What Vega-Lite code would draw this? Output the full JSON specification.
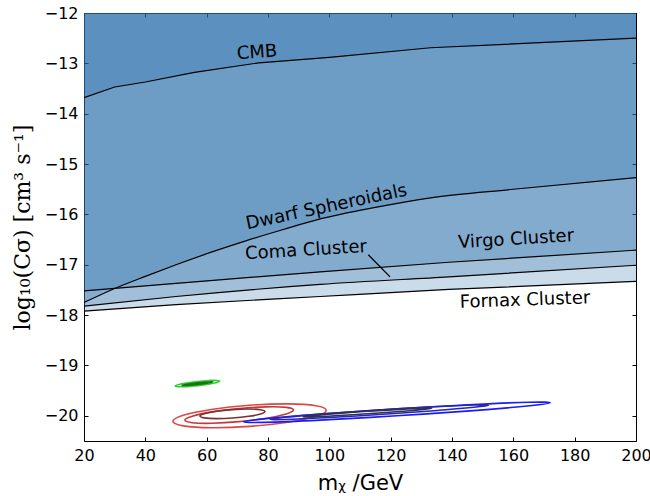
{
  "$schema": "https://vega.github.io/schema/vega-lite/v6.json",
  "width": 552,
  "height": 428,
  "autosize": "none",
  "padding": {"left": 84, "top": 13, "right": 14, "bottom": 55},
  "background": "white",
  "config": {
    "view": {"stroke": null},
    "axis": {
      "domainColor": "black", "domainWidth": 1,
      "tickColor": "black", "tickWidth": 1, "tickSize": -4,
      "labelColor": "black", "labelFont": "DejaVu Sans", "labelFontSize": 16, "labelPadding": 10,
      "labelFlush": false, "labelOverlap": false,
      "titleColor": "black", "titleFontWeight": "normal", "grid": false
    },
    "text": {"font": "DejaVu Sans", "fontSize": 18, "color": "black", "align": "center", "baseline": "middle"}
  },
  "datasets": {
    "curves": [
      {"curve": "CMB", "m": 20, "v": -13.68}, {"curve": "CMB", "m": 30, "v": -13.47}, {"curve": "CMB", "m": 40, "v": -13.37},
      {"curve": "CMB", "m": 56, "v": -13.18}, {"curve": "CMB", "m": 77, "v": -12.99}, {"curve": "CMB", "m": 100, "v": -12.88},
      {"curve": "CMB", "m": 133, "v": -12.69}, {"curve": "CMB", "m": 200, "v": -12.5},
      {"curve": "Dwarf", "m": 20, "v": -17.75}, {"curve": "Dwarf", "m": 30, "v": -17.47}, {"curve": "Dwarf", "m": 40, "v": -17.23},
      {"curve": "Dwarf", "m": 50, "v": -17.0}, {"curve": "Dwarf", "m": 62, "v": -16.74}, {"curve": "Dwarf", "m": 73, "v": -16.52},
      {"curve": "Dwarf", "m": 85, "v": -16.3}, {"curve": "Dwarf", "m": 97, "v": -16.09}, {"curve": "Dwarf", "m": 115, "v": -15.86},
      {"curve": "Dwarf", "m": 133, "v": -15.67}, {"curve": "Dwarf", "m": 160, "v": -15.5}, {"curve": "Dwarf", "m": 200, "v": -15.27},
      {"curve": "Virgo", "m": 20, "v": -17.52}, {"curve": "Virgo", "m": 50, "v": -17.37}, {"curve": "Virgo", "m": 97, "v": -17.14},
      {"curve": "Virgo", "m": 139, "v": -16.95}, {"curve": "Virgo", "m": 200, "v": -16.71},
      {"curve": "Coma", "m": 20, "v": -17.82}, {"curve": "Coma", "m": 50, "v": -17.63}, {"curve": "Coma", "m": 97, "v": -17.39},
      {"curve": "Coma", "m": 139, "v": -17.24}, {"curve": "Coma", "m": 200, "v": -17.01},
      {"curve": "Fornax", "m": 20, "v": -17.92}, {"curve": "Fornax", "m": 50, "v": -17.79}, {"curve": "Fornax", "m": 97, "v": -17.63},
      {"curve": "Fornax", "m": 139, "v": -17.49}, {"curve": "Fornax", "m": 200, "v": -17.33}
    ],
    "contours": [
      {"c": "g1", "i": 0, "m": 64.3, "v": -19.31}, {"c": "g1", "i": 1, "m": 63.32, "v": -19.297}, {"c": "g1", "i": 2, "m": 60.65, "v": -19.3},
      {"c": "g1", "i": 3, "m": 57, "v": -19.32}, {"c": "g1", "i": 4, "m": 53.35, "v": -19.35}, {"c": "g1", "i": 5, "m": 50.68, "v": -19.383},
      {"c": "g1", "i": 6, "m": 49.7, "v": -19.41}, {"c": "g1", "i": 7, "m": 50.68, "v": -19.423}, {"c": "g1", "i": 8, "m": 53.35, "v": -19.42},
      {"c": "g1", "i": 9, "m": 57, "v": -19.4}, {"c": "g1", "i": 10, "m": 60.65, "v": -19.37}, {"c": "g1", "i": 11, "m": 63.32, "v": -19.337},
      {"c": "g2", "i": 0, "m": 62, "v": -19.325}, {"c": "g2", "i": 1, "m": 61.33, "v": -19.322}, {"c": "g2", "i": 2, "m": 59.5, "v": -19.33},
      {"c": "g2", "i": 3, "m": 57, "v": -19.345}, {"c": "g2", "i": 4, "m": 54.5, "v": -19.365}, {"c": "g2", "i": 5, "m": 52.67, "v": -19.383},
      {"c": "g2", "i": 6, "m": 52, "v": -19.395}, {"c": "g2", "i": 7, "m": 52.67, "v": -19.398}, {"c": "g2", "i": 8, "m": 54.5, "v": -19.391},
      {"c": "g2", "i": 9, "m": 57, "v": -19.375}, {"c": "g2", "i": 10, "m": 59.5, "v": -19.356}, {"c": "g2", "i": 11, "m": 61.33, "v": -19.337},
      {"c": "r1", "i": 0, "m": 99, "v": -19.89}, {"c": "r1", "i": 1, "m": 95.65, "v": -19.8}, {"c": "r1", "i": 2, "m": 86.5, "v": -19.763},
      {"c": "r1", "i": 3, "m": 74, "v": -19.79}, {"c": "r1", "i": 4, "m": 61.5, "v": -19.873}, {"c": "r1", "i": 5, "m": 52.35, "v": -19.99},
      {"c": "r1", "i": 6, "m": 49, "v": -20.11}, {"c": "r1", "i": 7, "m": 52.35, "v": -20.2}, {"c": "r1", "i": 8, "m": 61.5, "v": -20.237},
      {"c": "r1", "i": 9, "m": 74, "v": -20.21}, {"c": "r1", "i": 10, "m": 86.5, "v": -20.127}, {"c": "r1", "i": 11, "m": 95.65, "v": -20.01},
      {"c": "r2", "i": 0, "m": 88.3, "v": -19.885}, {"c": "r2", "i": 1, "m": 85.93, "v": -19.833}, {"c": "r2", "i": 2, "m": 79.45, "v": -19.822},
      {"c": "r2", "i": 3, "m": 70.6, "v": -19.855}, {"c": "r2", "i": 4, "m": 61.75, "v": -19.922}, {"c": "r2", "i": 5, "m": 55.27, "v": -20.007},
      {"c": "r2", "i": 6, "m": 52.9, "v": -20.085}, {"c": "r2", "i": 7, "m": 55.27, "v": -20.137}, {"c": "r2", "i": 8, "m": 61.75, "v": -20.148},
      {"c": "r2", "i": 9, "m": 70.6, "v": -20.115}, {"c": "r2", "i": 10, "m": 79.45, "v": -20.048}, {"c": "r2", "i": 11, "m": 85.93, "v": -19.963},
      {"c": "r3", "i": 0, "m": 79, "v": -19.915}, {"c": "r3", "i": 1, "m": 77.58, "v": -19.879}, {"c": "r3", "i": 2, "m": 73.7, "v": -19.865},
      {"c": "r3", "i": 3, "m": 68.4, "v": -19.876}, {"c": "r3", "i": 4, "m": 63.1, "v": -19.91}, {"c": "r3", "i": 5, "m": 59.22, "v": -19.957},
      {"c": "r3", "i": 6, "m": 57.8, "v": -20.005}, {"c": "r3", "i": 7, "m": 59.22, "v": -20.041}, {"c": "r3", "i": 8, "m": 63.1, "v": -20.055},
      {"c": "r3", "i": 9, "m": 68.4, "v": -20.044}, {"c": "r3", "i": 10, "m": 73.7, "v": -20.01}, {"c": "r3", "i": 11, "m": 77.58, "v": -19.963},
      {"c": "b1", "i": 0, "m": 172, "v": -19.74}, {"c": "b1", "i": 1, "m": 165.3, "v": -19.73}, {"c": "b1", "i": 2, "m": 147, "v": -19.774},
      {"c": "b1", "i": 3, "m": 122, "v": -19.86}, {"c": "b1", "i": 4, "m": 97, "v": -19.964}, {"c": "b1", "i": 5, "m": 78.7, "v": -20.06},
      {"c": "b1", "i": 6, "m": 72, "v": -20.12}, {"c": "b1", "i": 7, "m": 78.7, "v": -20.13}, {"c": "b1", "i": 8, "m": 97, "v": -20.086},
      {"c": "b1", "i": 9, "m": 122, "v": -20.0}, {"c": "b1", "i": 10, "m": 147, "v": -19.896}, {"c": "b1", "i": 11, "m": 165.3, "v": -19.8},
      {"c": "b2", "i": 0, "m": 151.9, "v": -19.79}, {"c": "b2", "i": 1, "m": 147.13, "v": -19.786}, {"c": "b2", "i": 2, "m": 134.1, "v": -19.821},
      {"c": "b2", "i": 3, "m": 116.3, "v": -19.885}, {"c": "b2", "i": 4, "m": 98.5, "v": -19.961}, {"c": "b2", "i": 5, "m": 85.47, "v": -20.029},
      {"c": "b2", "i": 6, "m": 80.7, "v": -20.07}, {"c": "b2", "i": 7, "m": 85.47, "v": -20.074}, {"c": "b2", "i": 8, "m": 98.5, "v": -20.039},
      {"c": "b2", "i": 9, "m": 116.3, "v": -19.975}, {"c": "b2", "i": 10, "m": 134.1, "v": -19.899}, {"c": "b2", "i": 11, "m": 147.13, "v": -19.831},
      {"c": "b3", "i": 0, "m": 133.4, "v": -19.85}, {"c": "b3", "i": 1, "m": 130.59, "v": -19.849}, {"c": "b3", "i": 2, "m": 122.9, "v": -19.871},
      {"c": "b3", "i": 3, "m": 112.4, "v": -19.91}, {"c": "b3", "i": 4, "m": 101.9, "v": -19.956}, {"c": "b3", "i": 5, "m": 94.21, "v": -19.996},
      {"c": "b3", "i": 6, "m": 91.4, "v": -20.02}, {"c": "b3", "i": 7, "m": 94.21, "v": -20.021}, {"c": "b3", "i": 8, "m": 101.9, "v": -19.999},
      {"c": "b3", "i": 9, "m": 112.4, "v": -19.96}, {"c": "b3", "i": 10, "m": 122.9, "v": -19.914}, {"c": "b3", "i": 11, "m": 130.59, "v": -19.874}
    ],
    "arrow": [{"m": 112.7, "v": -16.8, "m2": 119.8, "v2": -17.24}]
  },
  "layer": [
    {
      "layer": [
        {
          "data": {"name": "curves"},
          "transform": [{"filter": "datum.curve !== 'CMB'"}],
          "mark": {"type": "area", "color": "#236aa9", "clip": true, "interpolate": "monotone"},
          "encoding": {
            "x": {"field": "m", "type": "quantitative", "scale": {"domain": [20, 200], "nice": false, "zero": false},
              "axis": {"values": [20, 40, 60, 80, 100, 120, 140, 160, 180, 200], "format": "d", "title": "mᵪ /GeV",
                "titleFont": "DejaVu Sans", "titleFontSize": 21, "titlePadding": 9}},
            "y": {"field": "v", "type": "quantitative", "stack": null, "scale": {"domain": [-20.5, -12], "nice": false, "zero": false},
              "axis": {"values": [-20, -19, -18, -17, -16, -15, -14, -13, -12], "format": "d", "title": "log₁₀(Cσ)  [cm³ s⁻¹]",
                "titleFont": "DejaVu Serif", "titleFontSize": 22, "titlePadding": 10}},
            "y2": {"datum": -12},
            "detail": {"field": "curve"},
            "opacity": {"field": "curve", "type": "nominal",
              "scale": {"domain": ["Fornax", "Coma", "Virgo", "Dwarf", "CMB"], "range": [0.245, 0.229, 0.258, 0.295, 0.343]},
              "legend": null}
          }
        },
        {
          "data": {"name": "curves"},
          "transform": [{"filter": "datum.curve === 'CMB'"}],
          "mark": {"type": "area", "color": "#236aa9", "clip": true},
          "encoding": {
            "x": {"field": "m", "type": "quantitative"},
            "y": {"field": "v", "type": "quantitative", "stack": null},
            "y2": {"datum": -12},
            "detail": {"field": "curve"},
            "opacity": {"field": "curve", "type": "nominal"}
          }
        },
        {
          "data": {"name": "curves"},
          "transform": [{"filter": "datum.curve !== 'CMB'"}],
          "mark": {"type": "line", "color": "black", "strokeWidth": 1.2, "clip": true, "interpolate": "monotone"},
          "encoding": {
            "x": {"field": "m", "type": "quantitative"},
            "y": {"field": "v", "type": "quantitative"},
            "detail": {"field": "curve"}
          }
        },
        {
          "data": {"name": "curves"},
          "transform": [{"filter": "datum.curve === 'CMB'"}],
          "mark": {"type": "line", "color": "black", "strokeWidth": 1.2, "clip": true},
          "encoding": {
            "x": {"field": "m", "type": "quantitative"},
            "y": {"field": "v", "type": "quantitative"},
            "detail": {"field": "curve"}
          }
        },
        {
          "data": {"name": "contours"},
          "mark": {"type": "line", "interpolate": "cardinal-closed", "strokeWidth": 1.6},
          "encoding": {
            "x": {"field": "m", "type": "quantitative"},
            "y": {"field": "v", "type": "quantitative"},
            "order": {"field": "i", "type": "quantitative"},
            "color": {"field": "c", "type": "nominal",
              "scale": {"domain": ["g1", "g2", "r1", "r2", "r3", "b1", "b2", "b3"],
                "range": ["#33cc33", "#117711", "#e04545", "#c03a3a", "#803030", "#1a1aff", "#2424c0", "#303050"]},
              "legend": null}
          }
        },
        {
          "data": {"name": "arrow"},
          "mark": {"type": "rule", "color": "black", "strokeWidth": 1.3},
          "encoding": {
            "x": {"field": "m", "type": "quantitative"},
            "y": {"field": "v", "type": "quantitative"},
            "x2": {"field": "m2"},
            "y2": {"field": "v2"}
          }
        },
        {
          "data": {"values": [{"label": "CMB", "m": 76.4, "v": -12.79}]},
          "mark": {"type": "text", "angle": 356},
          "encoding": {"x": {"field": "m", "type": "quantitative"}, "y": {"field": "v", "type": "quantitative"}, "text": {"field": "label"}}
        },
        {
          "data": {"values": [{"label": "Dwarf Spheroidals", "m": 99.1, "v": -15.86}]},
          "mark": {"type": "text", "angle": 348},
          "encoding": {"x": {"field": "m", "type": "quantitative"}, "y": {"field": "v", "type": "quantitative"}, "text": {"field": "label"}}
        },
        {
          "data": {"values": [{"label": "Coma Cluster", "m": 92.4, "v": -16.72}]},
          "mark": {"type": "text", "angle": 356.5},
          "encoding": {"x": {"field": "m", "type": "quantitative"}, "y": {"field": "v", "type": "quantitative"}, "text": {"field": "label"}}
        },
        {
          "data": {"values": [{"label": "Virgo Cluster", "m": 160.9, "v": -16.5}]},
          "mark": {"type": "text", "angle": 356.5},
          "encoding": {"x": {"field": "m", "type": "quantitative"}, "y": {"field": "v", "type": "quantitative"}, "text": {"field": "label"}}
        },
        {
          "data": {"values": [{"label": "Fornax Cluster", "m": 163.8, "v": -17.71}]},
          "mark": {"type": "text", "angle": 358},
          "encoding": {"x": {"field": "m", "type": "quantitative"}, "y": {"field": "v", "type": "quantitative"}, "text": {"field": "label"}}
        }
      ]
    },
    {
      "data": {"name": "arrow"},
      "mark": {"type": "point", "opacity": 0},
      "encoding": {
        "x": {"field": "m", "type": "quantitative",
          "axis": {"orient": "top", "values": [20, 40, 60, 80, 100, 120, 140, 160, 180, 200], "labels": false, "title": null}},
        "y": {"field": "v", "type": "quantitative",
          "axis": {"orient": "right", "values": [-20, -19, -18, -17, -16, -15, -14, -13, -12], "labels": false, "title": null}}
      }
    }
  ],
  "resolve": {"axis": {"x": "independent", "y": "independent"}}
}
